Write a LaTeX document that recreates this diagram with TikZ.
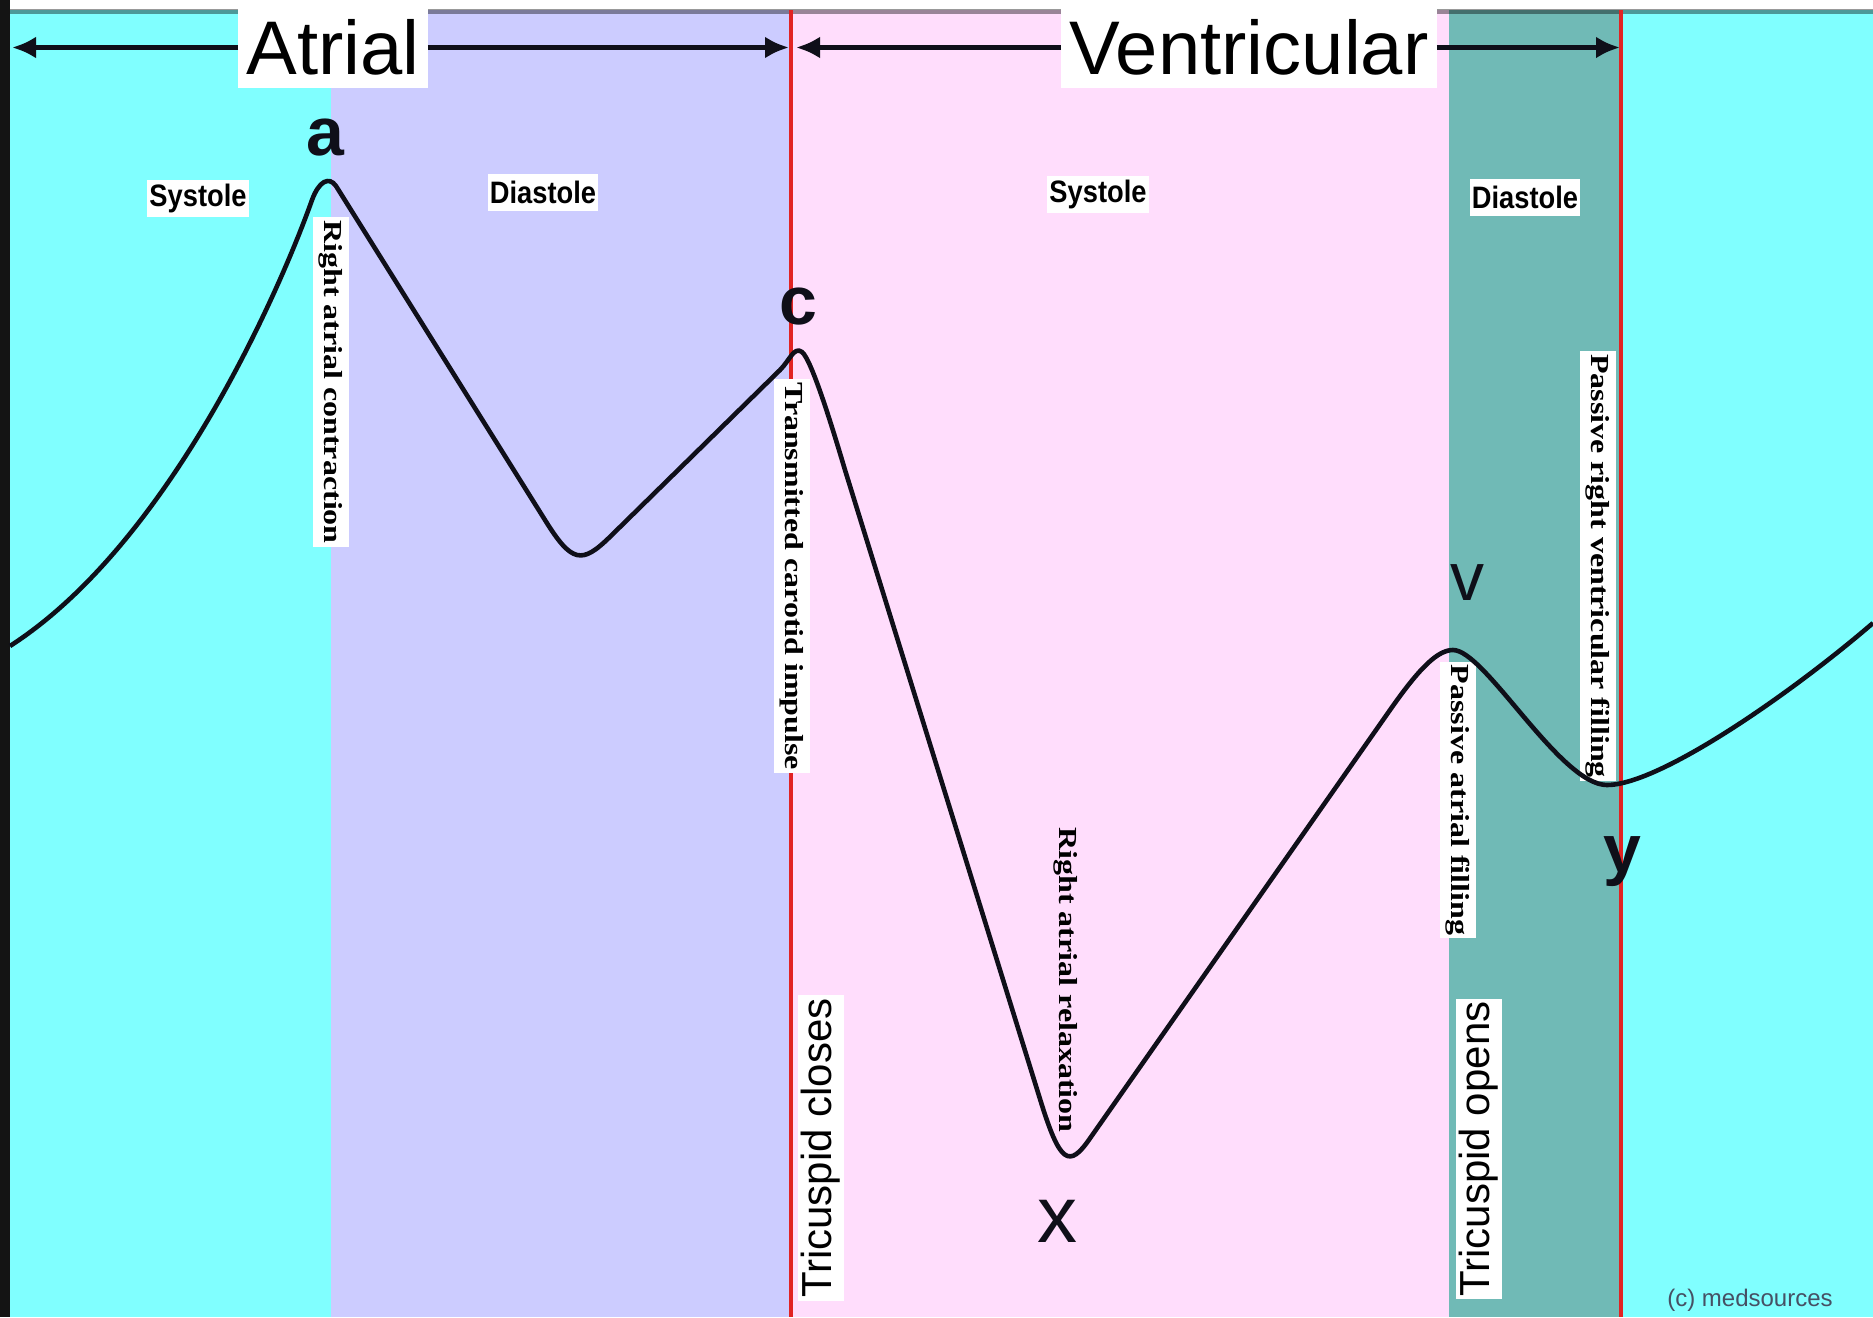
\documentclass[tikz,border=0pt]{standalone}
\usepackage{fontspec}
\setmainfont{Liberation Sans}
\newfontfamily\serifbf{Liberation Serif}
\usetikzlibrary{arrows.meta}
\definecolor{cyanbg}{RGB}{128,255,255}
\definecolor{lavbg}{RGB}{204,204,255}
\definecolor{pinkbg}{RGB}{255,221,252}
\definecolor{tealbg}{RGB}{112,186,182}
\definecolor{redline}{RGB}{225,35,35}
\definecolor{inkc}{RGB}{15,15,25}
\definecolor{credit}{RGB}{70,80,100}
\newcommand{\condtxt}[1]{\scalebox{0.88}[1]{#1}}
\newcommand{\longtxt}[1]{\scalebox{1.23}[1]{#1}}
\begin{document}
\begin{tikzpicture}[x=0.5pt,y=-0.5pt,
  phase/.style={fill=white, inner xsep=1pt, inner ysep=0pt, minimum height=18.5pt, font=\bfseries\fontsize{15.5}{16}\selectfont},
  eventlbl/.style={fill=white, inner xsep=1.5pt, inner ysep=3pt, font=\serifbf\bfseries\fontsize{13}{14}\selectfont, rotate=-90},
  valvelbl/.style={fill=white, inner xsep=1.5pt, inner ysep=1.5pt, font=\fontsize{21}{22}\selectfont, rotate=90},
  headbox/.style={fill=white, inner xsep=4pt, inner ysep=0pt, minimum height=40.5pt, font=\fontsize{38}{40}\selectfont},
  wavelbl/.style={font=\bfseries\fontsize{34}{36}\selectfont, inner sep=0pt, text=inkc},
  spanarrow/.style={line width=2.5pt, draw=inkc, -{Latex[length=12pt,width=11pt]}},
  pressure/.style={line width=2.3pt, draw=inkc, line join=round},
  divider/.style={line width=2pt, draw=redline}
]
\useasboundingbox (0,0) rectangle (1873,1317);
% backgrounds
\fill[white] (0,0) rectangle (1873,1317);
\fill[black!92] (0,0) rectangle (10,1317);
\fill[cyanbg] (10,10) rectangle (331,1317);
\fill[lavbg] (331,10) rectangle (791,1317);
\fill[pinkbg] (791,10) rectangle (1449,1317);
\fill[tealbg] (1449,10) rectangle (1621,1317);
\fill[cyanbg] (1621,10) rectangle (1873,1317);
\draw[black, opacity=0.4, line width=2.5pt] (10,11.5) -- (1873,11.5);
% dividers
\draw[divider] (791,10) -- (791,1317);
\draw[divider] (1621,10) -- (1621,1317);
% phase labels
\node[phase] (sysA) at (198,198) {\condtxt{Systole}};
\node[phase] (diaA) at (543,192) {\condtxt{Diastole}};
\node[phase] (sysV) at (1098,194) {\condtxt{Systole}};
\node[phase] (diaV) at (1525,197) {\condtxt{Diastole}};
% event labels
\node[eventlbl] (ev1) at (331,382) {\longtxt{Right atrial contraction}};
\node[eventlbl] (ev2) at (792,576) {\longtxt{Transmitted carotid impulse}};
\node[eventlbl, fill=none] (ev3) at (1066,980) {\longtxt{Right atrial relaxation}};
\node[eventlbl] (ev4) at (1458,800) {\longtxt{Passive atrial filling}};
\node[eventlbl] (ev5) at (1598,566) {\longtxt{Passive right ventricular filling}};
% valve labels
\node[valvelbl] (tc) at (821,1148) {Tricuspid closes};
\node[valvelbl] (to) at (1479,1149) {Tricuspid opens};
% pressure curve
\coordinate (s) at (10,646);
\coordinate (pc) at (802,352);
\coordinate (pv) at (1453,650);
\coordinate (py) at (1607,785);
\coordinate (e) at (1873,623);
\draw[pressure] (s) .. controls (170,543) and (280,290) .. (312,200)
  .. controls (319,181) and (329,176) .. (336,186)
  -- (545,520)
  .. controls (572,563.6) and (582,564.1) .. (610,536.8)
  -- (780,370)
  .. controls (790,360) and (794,346) .. (pc)
  .. controls (812,360) and (834,433) .. (845,470)
  -- (1040,1099)
  .. controls (1060,1163.9) and (1069,1168.8) .. (1090,1138.3)
  -- (1390,710)
  .. controls (1420,667) and (1438,650) .. (pv)
  .. controls (1485,650) and (1560,785) .. (py)
  .. controls (1660,785) and (1793,692) .. (e);
% wave letters
\node[wavelbl] (la) at (325,138) {a};
\node[wavelbl] (lc) at (798,307) {c};
\node[wavelbl, font=\fontsize{34}{36}\selectfont] (lv) at (1467,583) {v};
\node[wavelbl, font=\fontsize{40}{42}\selectfont] (lx) at (1057,1221) {x};
\node[wavelbl] (ly) at (1622,862) {y};
% header
\node[headbox] (atr) at (333,47.5) {Atrial};
\node[headbox] (ven) at (1249,47.5) {Ventricular};
\coordinate (atrL) at (12,47.5);
\coordinate (atrR) at (789,47.5);
\coordinate (venL) at (796,47.5);
\coordinate (venR) at (1620,47.5);
\draw[spanarrow] (atr.west) -- (atrL);
\draw[spanarrow] (atr.east) -- (atrR);
\draw[spanarrow] (ven.west) -- (venL);
\draw[spanarrow] (ven.east) -- (venR);
% credit
\node[font=\fontsize{12}{13}\selectfont, text=credit, inner sep=0pt] (cr) at (1750,1300) {(c) medsources};
\end{tikzpicture}
\end{document}
